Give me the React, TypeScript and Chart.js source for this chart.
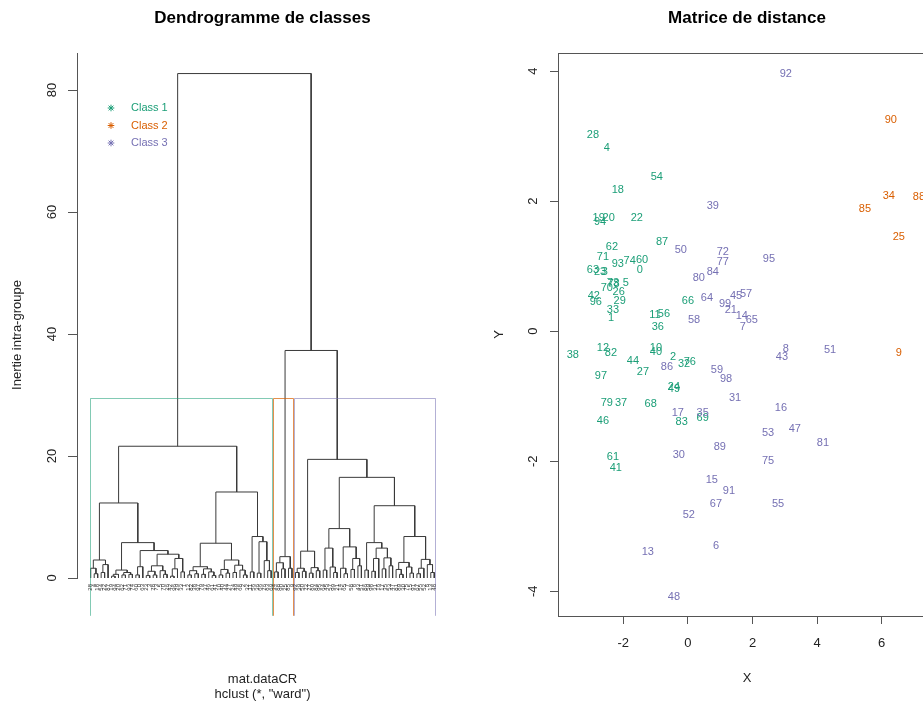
import { useEffect, useRef } from "react";
import Chart from "chart.js/auto";

type Tree = number | [number, Tree, Tree];

const FONT = "'Liberation Sans', Arial, Helvetica, sans-serif";

// ---------- classes ----------
const CLASS_NAMES = ["Class 1", "Class 2", "Class 3"];
const CLASS_COLORS = ["#1B9E77", "#D95F02", "#7570B3"];
const CLASS_BOX_COLORS = ["rgba(27,158,119,0.55)", "rgba(217,95,2,0.7)", "rgba(117,112,179,0.55)"];

// ---------- dendrogram (ward) : [height, left, right], leaves = observation numbers ----------
const TREE_CLASS1_A: Tree = [12.3,
  [2.95, [1.6, 28, [0.7, 4, 18]], [2.2, [0.9, 54, 22], 87]],
  [5.8,
    [1.3, [0.6, [0.3, 19, 94], 20], [0.9, [0.5, 62, 71], [0.6, 93, 74]]],
    [4.5,
      [1.85, [0.5, 60, 0], 63],
      [3.9,
        [2.0, [1.1, [0.4, 23, 3], [0.5, 78, 73]], [1.2, 5, [0.6, 70, 26]]],
        [3.2, [1.5, [0.3, 42, 96], 29], [1.0, 33, 1]]]]]];
const TREE_CLASS1_B: Tree = [14.1,
  [5.7,
    [1.85, [1.2, [0.5, 12, 82], [0.7, 38, 97]], [1.5, [0.6, 79, 37], [1.0, 46, [0.4, 61, 41]]]],
    [2.95, [1.4, [0.5, 10, 40], [0.8, 44, 27]], [2.1, [0.9, 24, 49], [1.3, 68, [0.5, 2, 32]]]]],
  [6.8, [1.0, 11, 56], [5.95, [0.8, 36, 66], [2.85, 76, [1.2, 83, 69]]]]];
const TREE_CLASS1: Tree = [21.6, TREE_CLASS1_A, TREE_CLASS1_B];
const TREE_CLASS2: Tree = [3.5, [2.5, [1.0, 34, 88], [1.5, 90, 25]], [1.6, 85, 9]];
const TREE_CLASS3: Tree = [19.45,
  [4.4, [1.6, [0.9, 92, 39], [1.1, 50, 72]], [1.7, [0.8, 77, 80], [1.2, 84, 95]]],
  [16.5,
    [8.1,
      [4.9, [1.3, 64, 45], [1.8, 57, [0.9, 99, 21]]],
      [5.1, [1.6, 14, [0.7, 65, 7]], [3.2, [1.4, 58, 8], [2.0, 43, 51]]]],
    [11.85,
      [5.8, [1.3, 86, 59], [4.9, [3.2, [1.1, 98, 31], 16], [3.3, [1.5, 17, 35], [2.0, 53, 47]]]],
      [6.8,
        [2.55, [1.4, 81, [0.6, 89, 30]], [1.8, 75, [0.8, 15, 91]]],
        [3.05, [1.6, [0.7, 67, 55], 52], [2.2, 6, [0.9, 13, 48]]]]]]];
const TREE: Tree = [82.7, TREE_CLASS1, [37.3, TREE_CLASS2, TREE_CLASS3]];
const CLASS_TREES: Tree[] = [TREE_CLASS1, TREE_CLASS2, TREE_CLASS3];
const CUT_BETWEEN = [21.6, 37.3];
const DENDRO_Y_TICKS = [0, 20, 40, 60, 80];

// ---------- distance map (coordinates of each observation) ----------
const C1_LABELS = [28, 4, 54, 18, 19, 20, 94, 22, 87, 62, 71, 93, 74, 60, 0, 63, 23, 3, 78, 73, 5, 70, 26, 42, 96, 29, 66, 33, 1, 11, 56, 36, 12, 82, 38, 10, 40, 44, 2, 32, 76, 27, 97, 24, 49, 79, 37, 68, 83, 69, 46, 61, 41];
const C1_X = [-2.94, -2.51, -0.96, -2.17, -2.76, -2.45, -2.72, -1.58, -0.80, -2.35, -2.63, -2.17, -1.80, -1.42, -1.49, -2.94, -2.72, -2.57, -2.30, -2.32, -1.92, -2.51, -2.14, -2.91, -2.85, -2.11, 0.0, -2.32, -2.38, -1.02, -0.74, -0.93, -2.63, -2.38, -3.56, -0.99, -0.99, -1.70, -0.46, -0.12, 0.06, -1.39, -2.69, -0.43, -0.43, -2.51, -2.07, -1.15, -0.19, 0.46, -2.63, -2.32, -2.23];
const C1_Y = [3.02, 2.82, 2.38, 2.17, 1.74, 1.74, 1.68, 1.74, 1.37, 1.29, 1.14, 1.03, 1.08, 1.09, 0.95, 0.95, 0.91, 0.91, 0.72, 0.74, 0.74, 0.66, 0.60, 0.54, 0.45, 0.46, 0.46, 0.32, 0.20, 0.25, 0.26, 0.06, -0.26, -0.34, -0.37, -0.25, -0.32, -0.45, -0.40, -0.50, -0.48, -0.62, -0.69, -0.86, -0.89, -1.11, -1.11, -1.12, -1.40, -1.34, -1.38, -1.94, -2.11];
const C2_LABELS = [90, 34, 88, 85, 25, 9];
const C2_X = [6.28, 6.22, 7.15, 5.48, 6.53, 6.53];
const C2_Y = [3.25, 2.08, 2.06, 1.88, 1.45, -0.34];
const C3_LABELS = [92, 39, 50, 72, 77, 80, 84, 95, 64, 45, 57, 99, 21, 14, 65, 7, 58, 8, 43, 51, 86, 59, 98, 31, 16, 17, 35, 53, 47, 81, 89, 30, 75, 15, 91, 67, 55, 52, 6, 13, 48];
const C3_X = [3.03, 0.77, -0.22, 1.08, 1.08, 0.34, 0.77, 2.51, 0.59, 1.49, 1.80, 1.15, 1.33, 1.67, 1.98, 1.70, 0.19, 3.03, 2.91, 4.40, -0.65, 0.90, 1.18, 1.46, 2.88, -0.31, 0.46, 2.48, 3.31, 4.18, 0.99, -0.28, 2.48, 0.74, 1.27, 0.87, 2.79, 0.03, 0.87, -1.24, -0.43];
const C3_Y = [3.95, 1.92, 1.25, 1.22, 1.06, 0.82, 0.91, 1.11, 0.51, 0.55, 0.58, 0.42, 0.32, 0.23, 0.18, 0.06, 0.17, -0.28, -0.40, -0.29, -0.55, -0.60, -0.74, -1.03, -1.18, -1.26, -1.26, -1.57, -1.51, -1.72, -1.78, -1.91, -2.00, -2.28, -2.46, -2.66, -2.66, -2.82, -3.31, -3.40, -4.08];
const SCATTER_LABELS = [C1_LABELS, C2_LABELS, C3_LABELS];
const SCATTER_X = [C1_X, C2_X, C3_X];
const SCATTER_Y = [C1_Y, C2_Y, C3_Y];
const X_TICKS = [-2, 0, 2, 4, 6];
const Y_TICKS = [-4, -2, 0, 2, 4];

// ---------- helpers ----------
function countLeaves(t: Tree): number {
  return typeof t === "number" ? 1 : countLeaves(t[1]) + countLeaves(t[2]);
}
function layoutTree(tree: Tree) {
  const leaves: number[] = [];
  const pts: { x: number; y: number | null }[] = [];
  const walk = (n: Tree): { x: number; h: number } => {
    if (typeof n === "number") {
      leaves.push(n);
      return { x: leaves.length, h: 0 };
    }
    const [h, l, r] = n;
    const a = walk(l);
    const b = walk(r);
    pts.push({ x: a.x, y: a.h }, { x: a.x, y: h }, { x: b.x, y: h }, { x: b.x, y: b.h }, { x: b.x, y: null });
    return { x: (a.x + b.x) / 2, h };
  };
  walk(tree);
  return { leaves, pts };
}

function drawStar(ctx: CanvasRenderingContext2D, x: number, y: number, r: number) {
  ctx.beginPath();
  ctx.moveTo(x - r, y); ctx.lineTo(x + r, y);
  ctx.moveTo(x, y - r); ctx.lineTo(x, y + r);
  const d = r * 0.72;
  ctx.moveTo(x - d, y - d); ctx.lineTo(x + d, y + d);
  ctx.moveTo(x - d, y + d); ctx.lineTo(x + d, y - d);
  ctx.stroke();
}

export default function App() {
  const leftRef = useRef<HTMLCanvasElement | null>(null);
  const rightRef = useRef<HTMLCanvasElement | null>(null);

  useEffect(() => {
    const { leaves, pts } = layoutTree(TREE);
    const sizes = CLASS_TREES.map(countLeaves);
    const boxTop = (CUT_BETWEEN[0] + CUT_BETWEEN[1]) / 2;

    const dendroPlugin = {
      id: "dendroDecor",
      afterDraw(chart: any) {
        const ctx: CanvasRenderingContext2D = chart.ctx;
        const xs = chart.scales.x;
        const ys = chart.scales.y;
        ctx.save();
        // cluster rectangles
        let start = 0;
        sizes.forEach((n, i) => {
          const x1 = Math.round(xs.getPixelForValue(start + 0.66)) + 0.5;
          const x2 = Math.round(xs.getPixelForValue(start + n + 0.33)) + 0.5;
          const yT = Math.round(ys.getPixelForValue(boxTop)) + 0.5;
          const yB = ys.getPixelForValue(-6.2);
          ctx.strokeStyle = CLASS_BOX_COLORS[i];
          ctx.lineWidth = 1;
          ctx.beginPath();
          ctx.moveTo(x1, yB); ctx.lineTo(x1, yT); ctx.lineTo(x2, yT); ctx.lineTo(x2, yB);
          ctx.stroke();
          start += n;
        });
        // leaf labels
        ctx.fillStyle = "#333";
        ctx.font = `6px ${FONT}`;
        ctx.textAlign = "right";
        ctx.textBaseline = "middle";
        leaves.forEach((lab, i) => {
          const x = xs.getPixelForValue(i + 1);
          ctx.save();
          ctx.translate(x, 584);
          ctx.rotate(-Math.PI / 2);
          ctx.fillText(String(lab), 0, 0);
          ctx.restore();
        });
        // y tick labels (rotated)
        ctx.fillStyle = "#222";
        ctx.font = `13px ${FONT}`;
        ctx.textAlign = "center";
        DENDRO_Y_TICKS.forEach((v) => {
          ctx.save();
          ctx.translate(52, ys.getPixelForValue(v));
          ctx.rotate(-Math.PI / 2);
          ctx.fillText(String(v), 0, 0);
          ctx.restore();
        });
        // axis titles
        ctx.font = `13px ${FONT}`;
        ctx.save();
        ctx.translate(17, 335);
        ctx.rotate(-Math.PI / 2);
        ctx.fillText("Inertie intra-groupe", 0, 0);
        ctx.restore();
        const cx = (chart.chartArea.left + chart.chartArea.right) / 2;
        ctx.font = `13px ${FONT}`;
        ctx.fillText("mat.dataCR", cx, 679);
        ctx.fillText('hclust (*, "ward")', cx, 694);
        // title
        ctx.fillStyle = "#000";
        ctx.font = `bold 17px ${FONT}`;
        ctx.fillText("Dendrogramme de classes", cx, 18);
        // legend
        ctx.font = `11px ${FONT}`;
        ctx.textAlign = "left";
        CLASS_NAMES.forEach((name, i) => {
          const y = 108 + i * 17.5;
          ctx.strokeStyle = CLASS_COLORS[i];
          ctx.lineWidth = 1;
          drawStar(ctx, 111, y, 3.3);
          ctx.fillStyle = CLASS_COLORS[i];
          ctx.fillText(name, 131, y);
        });
        ctx.restore();
      },
    };

    const left = new Chart(leftRef.current as HTMLCanvasElement, {
      type: "line",
      data: {
        datasets: [
          {
            data: pts as any,
            borderColor: "#3a3a3a",
            borderWidth: 1,
            pointRadius: 0,
            pointHoverRadius: 0,
            spanGaps: false,
            tension: 0,
            fill: false,
          },
        ],
      },
      options: {
        animation: false,
        responsive: false,
        events: [],
        layout: { padding: { top: 53, right: 13, bottom: 124, left: 0 } },
        plugins: { legend: { display: false }, tooltip: { enabled: false }, title: { display: false } },
        scales: {
          x: { type: "linear", min: -2.96, max: 103.96, display: false },
          y: {
            type: "linear",
            min: 0,
            max: 86.07,
            ticks: { display: false },
            afterBuildTicks: (s: any) => {
              s.ticks = DENDRO_Y_TICKS.map((v) => ({ value: v }));
            },
            afterFit: (s: any) => {
              s.width = 77;
            },
            grid: { drawOnChartArea: false, drawTicks: true, tickLength: 9, color: "#555" },
            border: { display: true, color: "#555", width: 1 },
          },
        },
      } as any,
      plugins: [dendroPlugin],
    });

    const scatterPlugin = {
      id: "scatterDecor",
      afterDraw(chart: any) {
        const ctx: CanvasRenderingContext2D = chart.ctx;
        const a = chart.chartArea;
        const xs = chart.scales.x;
        const ys = chart.scales.y;
        ctx.save();
        // box
        ctx.strokeStyle = "#555";
        ctx.lineWidth = 1;
        const l = Math.round(a.left) + 0.5, t = Math.round(a.top) + 0.5;
        const r = Math.round(a.right) + 0.5, b = Math.round(a.bottom) + 0.5;
        ctx.strokeRect(l, t, r - l, b - t);
        // point labels
        ctx.font = `11px ${FONT}`;
        ctx.textAlign = "center";
        ctx.textBaseline = "middle";
        SCATTER_LABELS.forEach((labs, i) => {
          const meta = chart.getDatasetMeta(i);
          ctx.fillStyle = CLASS_COLORS[i];
          meta.data.forEach((el: any, j: number) => {
            ctx.fillText(String(labs[j]), el.x, el.y);
          });
        });
        // tick labels
        ctx.fillStyle = "#222";
        ctx.font = `13px ${FONT}`;
        X_TICKS.forEach((v) => ctx.fillText(String(v), xs.getPixelForValue(v), 643));
        Y_TICKS.forEach((v) => {
          ctx.save();
          ctx.translate(72, ys.getPixelForValue(v));
          ctx.rotate(-Math.PI / 2);
          ctx.fillText(String(v), 0, 0);
          ctx.restore();
        });
        const cx = (a.left + a.right) / 2;
        const cy = (a.top + a.bottom) / 2;
        ctx.fillText("X", cx, 678);
        ctx.save();
        ctx.translate(38, cy);
        ctx.rotate(-Math.PI / 2);
        ctx.fillText("Y", 0, 0);
        ctx.restore();
        ctx.fillStyle = "#000";
        ctx.font = `bold 17px ${FONT}`;
        ctx.fillText("Matrice de distance", cx, 18);
        ctx.restore();
      },
    };

    const right = new Chart(rightRef.current as HTMLCanvasElement, {
      type: "scatter",
      data: {
        datasets: SCATTER_LABELS.map((labs, i) => ({
          label: CLASS_NAMES[i],
          data: labs.map((_, j) => ({ x: SCATTER_X[i][j], y: SCATTER_Y[i][j] })),
          pointRadius: 0,
          pointHoverRadius: 0,
          backgroundColor: CLASS_COLORS[i],
          borderColor: CLASS_COLORS[i],
        })),
      },
      options: {
        animation: false,
        responsive: false,
        events: [],
        layout: { padding: { top: 53, right: 25, bottom: 0, left: 0 } },
        plugins: { legend: { display: false }, tooltip: { enabled: false }, title: { display: false } },
        scales: {
          x: {
            type: "linear",
            min: -4.02,
            max: 7.68,
            ticks: { display: false },
            afterBuildTicks: (s: any) => {
              s.ticks = X_TICKS.map((v) => ({ value: v }));
            },
            afterFit: (s: any) => {
              s.height = 86;
            },
            grid: { drawOnChartArea: false, drawTicks: true, tickLength: 8, color: "#555" },
            border: { display: false },
          },
          y: {
            type: "linear",
            min: -4.38,
            max: 4.28,
            ticks: { display: false },
            afterBuildTicks: (s: any) => {
              s.ticks = Y_TICKS.map((v) => ({ value: v }));
            },
            afterFit: (s: any) => {
              s.width = 97;
            },
            grid: { drawOnChartArea: false, drawTicks: true, tickLength: 8, color: "#555" },
            border: { display: false },
          },
        },
      } as any,
      plugins: [scatterPlugin],
    });

    return () => {
      left.destroy();
      right.destroy();
    };
  }, []);

  return (
    <div
      style={{
        position: "fixed",
        left: 0,
        top: 0,
        width: 923,
        height: 702,
        overflow: "hidden",
        background: "#fff",
      }}
    >
      <canvas
        ref={leftRef}
        width={461}
        height={702}
        style={{ position: "absolute", left: 0, top: 0, width: 461, height: 702 }}
      />
      <canvas
        ref={rightRef}
        width={500}
        height={702}
        style={{ position: "absolute", left: 461, top: 0, width: 500, height: 702 }}
      />
    </div>
  );
}
